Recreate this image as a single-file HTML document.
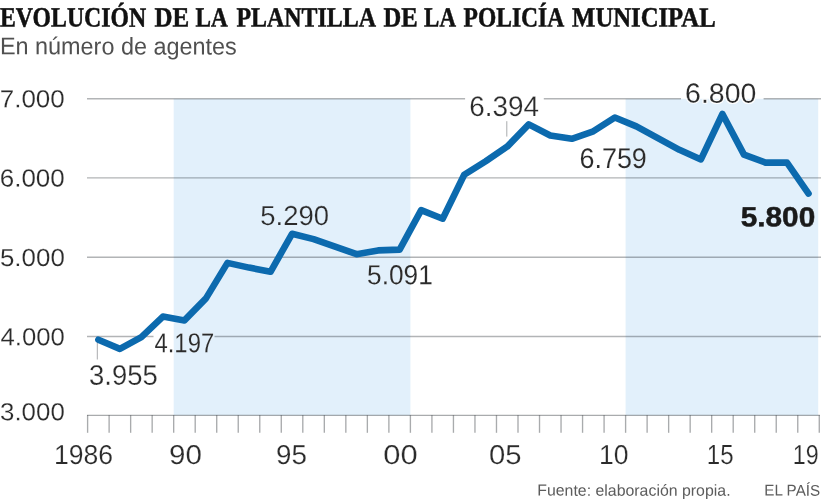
<!DOCTYPE html>
<html><head><meta charset="utf-8"><title>chart</title>
<style>html,body{margin:0;padding:0;background:#fff}svg{display:block}text{text-rendering:geometricPrecision}</style></head>
<body>
<svg width="821" height="500" viewBox="0 0 821 500">
<rect width="821" height="500" fill="#fff"/>
<rect x="173.68" y="98.8" width="236.72" height="316.50" fill="#e2f0fb"/>
<rect x="625.60" y="98.8" width="192.60" height="316.50" fill="#e2f0fb"/>
<line x1="87.0" x2="465.1" y1="98.82" y2="98.82" stroke="#b2b4b6" stroke-width="1.4" style="mix-blend-mode:multiply"/>
<line x1="543.8" x2="681" y1="98.82" y2="98.82" stroke="#b2b4b6" stroke-width="1.4" style="mix-blend-mode:multiply"/>
<line x1="763.6" x2="821.0" y1="98.82" y2="98.82" stroke="#b2b4b6" stroke-width="1.4" style="mix-blend-mode:multiply"/>
<line x1="87.0" x2="821.0" y1="177.9" y2="177.9" stroke="#b2b4b6" stroke-width="1.4" style="mix-blend-mode:multiply"/>
<line x1="87.0" x2="821.0" y1="257.2" y2="257.2" stroke="#b2b4b6" stroke-width="1.4" style="mix-blend-mode:multiply"/>
<line x1="87.0" x2="153.5" y1="336.5" y2="336.5" stroke="#b2b4b6" stroke-width="1.4" style="mix-blend-mode:multiply"/>
<line x1="214.5" x2="821.0" y1="336.5" y2="336.5" stroke="#b2b4b6" stroke-width="1.4" style="mix-blend-mode:multiply"/>
<line x1="87.00" x2="819.88" y1="415.3" y2="415.3" stroke="#a9abad" stroke-width="1.35" style="mix-blend-mode:multiply"/>
<line x1="87.60" x2="87.60" y1="415.3" y2="432.8" stroke="#a9abad" stroke-width="1.35" style="mix-blend-mode:multiply"/>
<line x1="109.12" x2="109.12" y1="415.3" y2="432.8" stroke="#a9abad" stroke-width="1.35" style="mix-blend-mode:multiply"/>
<line x1="130.64" x2="130.64" y1="415.3" y2="432.8" stroke="#a9abad" stroke-width="1.35" style="mix-blend-mode:multiply"/>
<line x1="152.16" x2="152.16" y1="415.3" y2="432.8" stroke="#a9abad" stroke-width="1.35" style="mix-blend-mode:multiply"/>
<line x1="173.68" x2="173.68" y1="415.3" y2="432.8" stroke="#a9abad" stroke-width="1.35" style="mix-blend-mode:multiply"/>
<line x1="195.20" x2="195.20" y1="415.3" y2="432.8" stroke="#a9abad" stroke-width="1.35" style="mix-blend-mode:multiply"/>
<line x1="216.72" x2="216.72" y1="415.3" y2="432.8" stroke="#a9abad" stroke-width="1.35" style="mix-blend-mode:multiply"/>
<line x1="238.24" x2="238.24" y1="415.3" y2="432.8" stroke="#a9abad" stroke-width="1.35" style="mix-blend-mode:multiply"/>
<line x1="259.76" x2="259.76" y1="415.3" y2="432.8" stroke="#a9abad" stroke-width="1.35" style="mix-blend-mode:multiply"/>
<line x1="281.28" x2="281.28" y1="415.3" y2="432.8" stroke="#a9abad" stroke-width="1.35" style="mix-blend-mode:multiply"/>
<line x1="302.80" x2="302.80" y1="415.3" y2="432.8" stroke="#a9abad" stroke-width="1.35" style="mix-blend-mode:multiply"/>
<line x1="324.32" x2="324.32" y1="415.3" y2="432.8" stroke="#a9abad" stroke-width="1.35" style="mix-blend-mode:multiply"/>
<line x1="345.84" x2="345.84" y1="415.3" y2="432.8" stroke="#a9abad" stroke-width="1.35" style="mix-blend-mode:multiply"/>
<line x1="367.36" x2="367.36" y1="415.3" y2="432.8" stroke="#a9abad" stroke-width="1.35" style="mix-blend-mode:multiply"/>
<line x1="388.88" x2="388.88" y1="415.3" y2="432.8" stroke="#a9abad" stroke-width="1.35" style="mix-blend-mode:multiply"/>
<line x1="410.40" x2="410.40" y1="415.3" y2="432.8" stroke="#a9abad" stroke-width="1.35" style="mix-blend-mode:multiply"/>
<line x1="431.92" x2="431.92" y1="415.3" y2="432.8" stroke="#a9abad" stroke-width="1.35" style="mix-blend-mode:multiply"/>
<line x1="453.44" x2="453.44" y1="415.3" y2="432.8" stroke="#a9abad" stroke-width="1.35" style="mix-blend-mode:multiply"/>
<line x1="474.96" x2="474.96" y1="415.3" y2="432.8" stroke="#a9abad" stroke-width="1.35" style="mix-blend-mode:multiply"/>
<line x1="496.48" x2="496.48" y1="415.3" y2="432.8" stroke="#a9abad" stroke-width="1.35" style="mix-blend-mode:multiply"/>
<line x1="518.00" x2="518.00" y1="415.3" y2="432.8" stroke="#a9abad" stroke-width="1.35" style="mix-blend-mode:multiply"/>
<line x1="539.52" x2="539.52" y1="415.3" y2="432.8" stroke="#a9abad" stroke-width="1.35" style="mix-blend-mode:multiply"/>
<line x1="561.04" x2="561.04" y1="415.3" y2="432.8" stroke="#a9abad" stroke-width="1.35" style="mix-blend-mode:multiply"/>
<line x1="582.56" x2="582.56" y1="415.3" y2="432.8" stroke="#a9abad" stroke-width="1.35" style="mix-blend-mode:multiply"/>
<line x1="604.08" x2="604.08" y1="415.3" y2="432.8" stroke="#a9abad" stroke-width="1.35" style="mix-blend-mode:multiply"/>
<line x1="625.60" x2="625.60" y1="415.3" y2="432.8" stroke="#a9abad" stroke-width="1.35" style="mix-blend-mode:multiply"/>
<line x1="647.12" x2="647.12" y1="415.3" y2="432.8" stroke="#a9abad" stroke-width="1.35" style="mix-blend-mode:multiply"/>
<line x1="668.64" x2="668.64" y1="415.3" y2="432.8" stroke="#a9abad" stroke-width="1.35" style="mix-blend-mode:multiply"/>
<line x1="690.16" x2="690.16" y1="415.3" y2="432.8" stroke="#a9abad" stroke-width="1.35" style="mix-blend-mode:multiply"/>
<line x1="711.68" x2="711.68" y1="415.3" y2="432.8" stroke="#a9abad" stroke-width="1.35" style="mix-blend-mode:multiply"/>
<line x1="733.20" x2="733.20" y1="415.3" y2="432.8" stroke="#a9abad" stroke-width="1.35" style="mix-blend-mode:multiply"/>
<line x1="754.72" x2="754.72" y1="415.3" y2="432.8" stroke="#a9abad" stroke-width="1.35" style="mix-blend-mode:multiply"/>
<line x1="776.24" x2="776.24" y1="415.3" y2="432.8" stroke="#a9abad" stroke-width="1.35" style="mix-blend-mode:multiply"/>
<line x1="797.76" x2="797.76" y1="415.3" y2="432.8" stroke="#a9abad" stroke-width="1.35" style="mix-blend-mode:multiply"/>
<line x1="819.28" x2="819.28" y1="415.3" y2="432.8" stroke="#a9abad" stroke-width="1.35" style="mix-blend-mode:multiply"/>
<line x1="506.8" x2="506.8" y1="121.2" y2="136.6" stroke="#a9abad" stroke-width="1"/>
<line x1="97.3" x2="97.3" y1="341" y2="359.5" stroke="#a9abad" stroke-width="1"/>
<polyline points="98.36,339.70 119.88,348.90 141.40,337.10 162.92,316.60 184.44,320.40 205.96,298.40 227.48,262.90 249.00,267.60 270.52,271.80 292.04,233.80 313.56,239.10 335.08,246.60 356.60,254.20 378.12,250.40 399.64,249.60 421.16,210.10 442.68,218.70 464.20,174.70 485.72,161.20 507.24,146.60 528.76,124.40 550.28,135.50 571.80,138.80 593.32,131.30 614.84,117.50 636.36,126.40 657.88,138.20 679.40,149.80 700.92,159.40 722.44,114.00 743.96,154.60 765.48,162.60 787.00,162.60 808.52,193.60" fill="none" stroke="#0c6aae" stroke-width="6.6" stroke-linejoin="round" stroke-linecap="round"/>
<text transform="translate(-0.00,26.50) matrix(1 0.001 0 1 0 0) scale(0.8555,1)" font-family='"Liberation Serif", serif' font-weight="bold" font-size="27.79" fill="#111" stroke="#111" stroke-width="0.5">EVOLUCIÓN</text>
<text transform="translate(154.58,26.50) matrix(1 0.001 0 1 0 0) scale(0.8990,1)" font-family='"Liberation Serif", serif' font-weight="bold" font-size="27.79" fill="#111" stroke="#111" stroke-width="0.5">DE</text>
<text transform="translate(195.61,26.50) matrix(1 0.001 0 1 0 0) scale(0.8358,1)" font-family='"Liberation Serif", serif' font-weight="bold" font-size="27.79" fill="#111" stroke="#111" stroke-width="0.5">LA</text>
<text transform="translate(236.39,26.50) matrix(1 0.001 0 1 0 0) scale(0.8610,1)" font-family='"Liberation Serif", serif' font-weight="bold" font-size="27.79" fill="#111" stroke="#111" stroke-width="0.5">PLANTILLA</text>
<text transform="translate(383.38,26.50) matrix(1 0.001 0 1 0 0) scale(0.8854,1)" font-family='"Liberation Serif", serif' font-weight="bold" font-size="27.79" fill="#111" stroke="#111" stroke-width="0.5">DE</text>
<text transform="translate(424.11,26.50) matrix(1 0.001 0 1 0 0) scale(0.8252,1)" font-family='"Liberation Serif", serif' font-weight="bold" font-size="27.79" fill="#111" stroke="#111" stroke-width="0.5">LA</text>
<text transform="translate(463.50,26.50) matrix(1 0.001 0 1 0 0) scale(0.8477,1)" font-family='"Liberation Serif", serif' font-weight="bold" font-size="27.79" fill="#111" stroke="#111" stroke-width="0.5">POLICÍA</text>
<text transform="translate(572.08,26.50) matrix(1 0.001 0 1 0 0) scale(0.8886,1)" font-family='"Liberation Serif", serif' font-weight="bold" font-size="27.79" fill="#111" stroke="#111" stroke-width="0.5">MUNICIPAL</text>
<text transform="translate(-0.12,54.30) matrix(1 0.001 0 1 0 0) scale(0.9707,1)" font-family='"Liberation Sans", sans-serif' font-weight="normal" font-size="24.13" fill="#505050" >En número de agentes</text>
<text transform="translate(-0.33,107.15) matrix(1 0.001 0 1 0 0) scale(1.0590,1)" font-family='"Liberation Sans", sans-serif' font-weight="normal" font-size="24.58" fill="#2b2b2b" stroke="#fff" stroke-width="0.2">7.000</text>
<text transform="translate(-0.30,186.45) matrix(1 0.001 0 1 0 0) scale(1.0585,1)" font-family='"Liberation Sans", sans-serif' font-weight="normal" font-size="24.58" fill="#2b2b2b" stroke="#fff" stroke-width="0.2">6.000</text>
<text transform="translate(-0.04,265.95) matrix(1 0.001 0 1 0 0) scale(1.0542,1)" font-family='"Liberation Sans", sans-serif' font-weight="normal" font-size="24.58" fill="#2b2b2b" stroke="#fff" stroke-width="0.2">5.000</text>
<text transform="translate(0.43,345.25) matrix(1 0.001 0 1 0 0) scale(1.0464,1)" font-family='"Liberation Sans", sans-serif' font-weight="normal" font-size="24.58" fill="#2b2b2b" stroke="#fff" stroke-width="0.2">4.000</text>
<text transform="translate(0.02,420.25) matrix(1 0.001 0 1 0 0) scale(1.0533,1)" font-family='"Liberation Sans", sans-serif' font-weight="normal" font-size="24.58" fill="#2b2b2b" stroke="#fff" stroke-width="0.2">3.000</text>
<text transform="translate(53.98,464.03) matrix(1 0.001 0 1 0 0) scale(0.9759,1)" font-family='"Liberation Sans", sans-serif' font-weight="normal" font-size="27.26" fill="#2b2b2b" stroke="#fff" stroke-width="0.2">1986</text>
<text transform="translate(168.94,464.03) matrix(1 0.001 0 1 0 0) scale(1.0848,1)" font-family='"Liberation Sans", sans-serif' font-weight="normal" font-size="27.26" fill="#2b2b2b" stroke="#fff" stroke-width="0.2">90</text>
<text transform="translate(275.92,464.03) matrix(1 0.001 0 1 0 0) scale(1.0200,1)" font-family='"Liberation Sans", sans-serif' font-weight="normal" font-size="27.26" fill="#2b2b2b" stroke="#fff" stroke-width="0.2">95</text>
<text transform="translate(383.19,464.03) matrix(1 0.001 0 1 0 0) scale(1.1342,1)" font-family='"Liberation Sans", sans-serif' font-weight="normal" font-size="27.26" fill="#2b2b2b" stroke="#fff" stroke-width="0.2">00</text>
<text transform="translate(489.06,464.03) matrix(1 0.001 0 1 0 0) scale(1.0735,1)" font-family='"Liberation Sans", sans-serif' font-weight="normal" font-size="27.26" fill="#2b2b2b" stroke="#fff" stroke-width="0.2">05</text>
<text transform="translate(598.88,464.03) matrix(1 0.001 0 1 0 0) scale(0.9741,1)" font-family='"Liberation Sans", sans-serif' font-weight="normal" font-size="27.26" fill="#2b2b2b" stroke="#fff" stroke-width="0.2">10</text>
<text transform="translate(706.77,464.02) matrix(1 0.001 0 1 0 0) scale(0.8723,1)" font-family='"Liberation Sans", sans-serif' font-weight="normal" font-size="27.65" fill="#2b2b2b" stroke="#fff" stroke-width="0.2">15</text>
<text transform="translate(792.83,464.03) matrix(1 0.001 0 1 0 0) scale(0.8531,1)" font-family='"Liberation Sans", sans-serif' font-weight="normal" font-size="27.26" fill="#2b2b2b" stroke="#fff" stroke-width="0.2">19</text>
<text transform="translate(88.96,384.72) matrix(1 0.001 0 1 0 0) scale(0.9730,1)" font-family='"Liberation Sans", sans-serif' font-weight="normal" font-size="28.25" fill="#2b2b2b" stroke="#fff" stroke-width="0.2">3.955</text>
<text transform="translate(154.47,352.13) matrix(1 0.001 0 1 0 0) scale(0.8711,1)" font-family='"Liberation Sans", sans-serif' font-weight="normal" font-size="27.40" fill="#2b2b2b" stroke="#fff" stroke-width="0.12">4.197</text>
<text transform="translate(260.30,225.02) matrix(1 0.001 0 1 0 0) scale(0.9976,1)" font-family='"Liberation Sans", sans-serif' font-weight="normal" font-size="27.54" fill="#2b2b2b" stroke="#e2f0fb" stroke-width="0.2">5.290</text>
<text transform="translate(367.05,284.22) matrix(1 0.001 0 1 0 0) scale(0.9536,1)" font-family='"Liberation Sans", sans-serif' font-weight="normal" font-size="27.54" fill="#2b2b2b" stroke="#fff" stroke-width="0.12">5.091</text>
<text transform="translate(469.31,116.02) matrix(1 0.001 0 1 0 0) scale(0.9862,1)" font-family='"Liberation Sans", sans-serif' font-weight="normal" font-size="28.25" fill="#2b2b2b" stroke="#fff" stroke-width="0.2">6.394</text>
<text transform="translate(579.45,167.92) matrix(1 0.001 0 1 0 0) scale(0.9491,1)" font-family='"Liberation Sans", sans-serif' font-weight="normal" font-size="28.39" fill="#2b2b2b" stroke="#fff" stroke-width="0.12">6.759</text>
<text transform="translate(685.08,102.62) matrix(1 0.001 0 1 0 0) scale(1.0333,1)" font-family='"Liberation Sans", sans-serif' font-weight="normal" font-size="27.54" fill="#fff" stroke="#fff" stroke-width="2.2" stroke-linejoin="round">6.800</text>
<text transform="translate(685.08,102.62) matrix(1 0.001 0 1 0 0) scale(1.0333,1)" font-family='"Liberation Sans", sans-serif' font-weight="normal" font-size="27.54" fill="#2b2b2b" stroke="#fff" stroke-width="0.12">6.800</text>
<text transform="translate(740.71,226.32) matrix(1 0.001 0 1 0 0) scale(1.0754,1)" font-family='"Liberation Sans", sans-serif' font-weight="bold" font-size="27.68" fill="#1a1a1a" stroke="#1a1a1a" stroke-width="0.5">5.800</text>
<text transform="translate(537.20,495.60) matrix(1 0.001 0 1 0 0) scale(1.0034,1)" font-family='"Liberation Sans", sans-serif' font-weight="normal" font-size="15.84" fill="#5c5c5c" >Fuente: elaboración propia.</text>
<text transform="translate(764.35,495.60) matrix(1 0.001 0 1 0 0) scale(0.9787,1)" font-family='"Liberation Sans", sans-serif' font-weight="normal" font-size="15.55" fill="#5c5c5c" >EL PAÍS</text>
</svg>
</body></html>
